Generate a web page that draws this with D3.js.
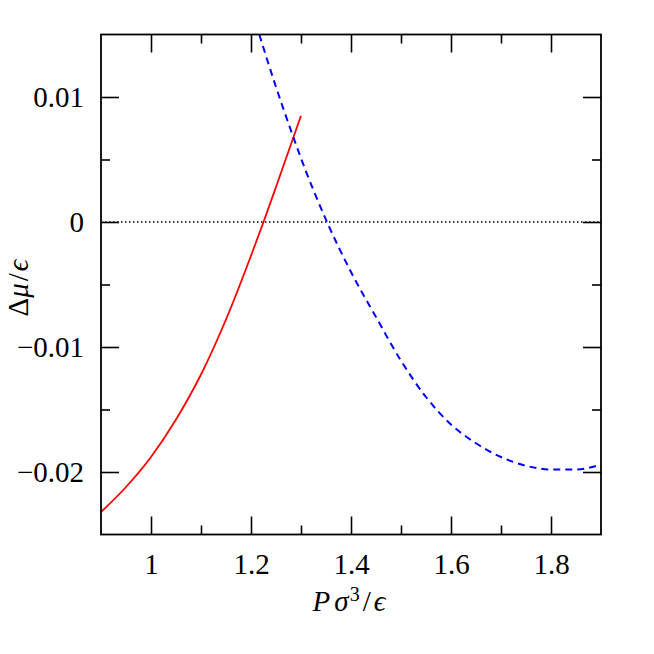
<!DOCTYPE html>
<html>
<head>
<meta charset="utf-8">
<script src="https://cdn.jsdelivr.net/npm/d3@7"></script>
<style>
  body { margin: 0; background: #fff; }
  svg { display: block; }
</style>
</head>
<body>
<div id="chart"></div>
<script>
// data
var redP  = [0.90, 0.95, 1.00, 1.05, 1.10, 1.15, 1.20, 1.225, 1.25, 1.30]
var redMu = [-0.0232, -0.0212, -0.0188, -0.0158, -0.0122, -0.0078, -0.0027, 0, 0.0028, 0.0085]

var blueP  = [1.2166, 1.25, 1.2846, 1.30, 1.352, 1.40, 1.45, 1.50, 1.55, 1.60, 1.65, 1.70, 1.75, 1.80, 1.85, 1.90]
var blueMu = [0.015, 0.0108, 0.0068, 0.0051, 0, -0.0040, -0.0076, -0.0111, -0.0140, -0.0162, -0.0177, -0.0188, -0.0195, -0.0198, -0.0198, -0.0194]

var xMajor = [1, 1.2, 1.4, 1.6, 1.8]
var xMinor = [1.1, 1.3, 1.5, 1.7]
var yMajor = [-0.02, -0.01, 0, 0.01]
var yMinor = [-0.015, -0.005, 0.005]

var W = 654, H = 654
var pLeft = 101, pRight = 601, pTop = 34.5, pBottom = 534.5

var svg = d3.select("#chart").append("svg")
    .attr("width", W)
    .attr("height", H)

var x = d3.scaleLinear().domain([0.9, 1.9]).range([pLeft, pRight])
var y = d3.scaleLinear().domain([-0.025, 0.015]).range([pBottom, pTop])

var font = "'Liberation Serif', 'DejaVu Serif', serif"
var xFmt = d3.format("~g")
var yFmt = function (d) { return d === 0 ? "0" : d3.format(".2f")(d) }

function styleAxis(g) {
  g.select(".domain").remove()
  g.selectAll(".tick line").attr("stroke", "#000").attr("stroke-width", 1.6)
  g.selectAll(".tick text").attr("fill", "#000").style("font-family", font).style("font-size", "29px")
}

// bottom
svg.append("g").attr("transform", "translate(0," + pBottom + ")")
    .call(d3.axisBottom(x).tickValues(xMajor).tickSize(-18).tickPadding(19).tickFormat(xFmt))
    .call(styleAxis)
svg.append("g").attr("transform", "translate(0," + pBottom + ")")
    .call(d3.axisBottom(x).tickValues(xMinor).tickSize(-9).tickFormat(""))
    .call(styleAxis)
// top
svg.append("g").attr("transform", "translate(0," + pTop + ")")
    .call(d3.axisTop(x).tickValues(xMajor).tickSize(-18).tickFormat(""))
    .call(styleAxis)
svg.append("g").attr("transform", "translate(0," + pTop + ")")
    .call(d3.axisTop(x).tickValues(xMinor).tickSize(-9).tickFormat(""))
    .call(styleAxis)
// left
svg.append("g").attr("transform", "translate(" + pLeft + ",0)")
    .call(d3.axisLeft(y).tickValues(yMajor).tickSize(-18).tickPadding(17).tickFormat(yFmt))
    .call(styleAxis)
svg.append("g").attr("transform", "translate(" + pLeft + ",0)")
    .call(d3.axisLeft(y).tickValues(yMinor).tickSize(-9).tickFormat(""))
    .call(styleAxis)
// right
svg.append("g").attr("transform", "translate(" + pRight + ",0)")
    .call(d3.axisRight(y).tickValues(yMajor).tickSize(-18).tickFormat(""))
    .call(styleAxis)
svg.append("g").attr("transform", "translate(" + pRight + ",0)")
    .call(d3.axisRight(y).tickValues(yMinor).tickSize(-9).tickFormat(""))
    .call(styleAxis)

svg.append("clipPath").attr("id", "clip")
  .append("rect")
    .attr("x", pLeft).attr("y", pTop)
    .attr("width", pRight - pLeft).attr("height", pBottom - pTop)

var plot = svg.append("g").attr("clip-path", "url(#clip)")

// zero line
plot.append("line")
    .attr("x1", x(0.9)).attr("x2", x(1.9))
    .attr("y1", y(0)).attr("y2", y(0))
    .style("stroke", "#000")
    .style("stroke-width", 1.5)
    .style("stroke-dasharray", "1.5,2.5")

var line = d3.line()
    .x(function (d) { return x(d[0]) })
    .y(function (d) { return y(d[1]) })
    .curve(d3.curveMonotoneX)

plot.append("path")
    .datum(redP.map(function (p, i) { return [p, redMu[i]] }))
    .attr("d", line)
    .style("fill", "none")
    .style("stroke", "#ff0000")
    .style("stroke-width", 1.8)

plot.append("path")
    .datum(blueP.map(function (p, i) { return [p, blueMu[i]] }))
    .attr("d", line)
    .style("fill", "none")
    .style("stroke", "#0000ff")
    .style("stroke-width", 2)
    .style("stroke-dasharray", "7,5")

// frame
svg.append("rect")
    .attr("x", pLeft).attr("y", pTop)
    .attr("width", pRight - pLeft).attr("height", pBottom - pTop)
    .style("fill", "none")
    .style("stroke", "#000")
    .style("stroke-width", 1.8)

// axis titles
var xt = svg.append("text")
    .attr("x", 349).attr("y", 611)
    .attr("text-anchor", "middle")
    .style("font-family", font)
    .style("font-size", "29px")
xt.append("tspan").style("font-style", "italic").text("P")
xt.append("tspan").attr("dx", 4).style("font-style", "italic").text("σ")
xt.append("tspan").attr("dx", 1).style("font-size", "20px").attr("dy", -10).text("3")
xt.append("tspan").attr("dx", 3).attr("dy", 10).text("/")
xt.append("tspan").attr("dx", 3).style("font-style", "italic").text("ϵ")

var yt = svg.append("text")
    .attr("transform", "translate(28,288) rotate(-90)")
    .attr("text-anchor", "middle")
    .style("font-family", font)
    .style("font-size", "29px")
yt.append("tspan").text("Δ")
yt.append("tspan").style("font-style", "italic").text("μ")
yt.append("tspan").attr("dx", 2).text("/")
yt.append("tspan").attr("dx", 2).style("font-style", "italic").text("ϵ")
</script>
</body>
</html>
